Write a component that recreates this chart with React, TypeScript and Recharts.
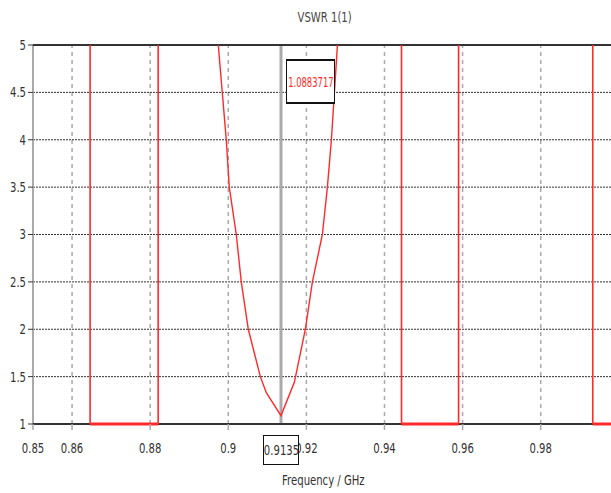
import { LineChart, Line, XAxis, YAxis, ReferenceLine } from "recharts";

const FONT = "'DejaVu Sans', sans-serif";

// VSWR dip around the marker (GHz, VSWR)
const dipFreq = [0.8965, 0.89744, 0.89846, 0.89949, 0.90026, 0.90205, 0.90333, 0.90513, 0.90821, 0.90974, 0.9135, 0.91692, 0.91974, 0.92154, 0.9241, 0.92538, 0.92641, 0.92718, 0.92795, 0.9287];
const dipVswr = [5.6, 5, 4.5, 4, 3.5, 3, 2.5, 2, 1.5, 1.33, 1.0884, 1.44, 2, 2.5, 3, 3.5, 4, 4.5, 5, 5.6];

// rectangular segments that sit on VSWR = 1
const pulseA = { freq: [0.86462, 0.86462, 0.88205, 0.88205], vswr: [6, 1, 1, 6] };
const pulseB = { freq: [0.94436, 0.94436, 0.95897, 0.95897], vswr: [6, 1, 1, 6] };
const pulseC = { freq: [0.99333, 0.99333, 1.0], vswr: [6, 1, 1] };

const xTicks = [0.85, 0.86, 0.88, 0.9, 0.92, 0.94, 0.96, 0.98];
const yTicks = [1, 1.5, 2, 2.5, 3, 3.5, 4, 4.5, 5];
const xGrid = [0.86, 0.88, 0.9, 0.92, 0.94, 0.96, 0.98];
const yGrid = [1.5, 2, 2.5, 3, 3.5, 4, 4.5];

const markerFreq = 0.9135;
const markerValue = "1.0883717";

const zip = (f: number[], v: number[]) => f.map((x, i) => ({ f: x, v: v[i] }));

const dipData = zip(dipFreq, dipVswr);
const pulseList = [pulseA, pulseB, pulseC];
const pulses = pulseList.map((p) => zip(p.freq, p.vswr));

// flat parts of the pulses, redrawn on top of the bottom border
const floors = pulseList.map((p) => {
  const xs = p.freq.filter((_, i) => p.vswr[i] === 1);
  return [xs[0], xs[xs.length - 1]];
});

const RED = "#ff2a2a";
const NARROW = 0.72;

// narrow tick text, the original uses a condensed face
function NarrowTick(props: any) {
  const { x, y, payload, textAnchor, verticalAnchor } = props;
  const dy = verticalAnchor === "start" ? "0.8em" : "0.35em";
  return (
    <text
      transform={`translate(${x},${y}) scale(${NARROW},1)`}
      textAnchor={textAnchor}
      dy={dy}
      fill="#333"
      fontSize={14}
      fontFamily={FONT}
    >
      {String(payload.value)}
    </text>
  );
}

const narrowSpan = (s: string) => (
  <span style={{ display: "inline-block", transform: `scaleX(${NARROW})` }}>{s}</span>
);

export default function App() {
  return (
    <div
      style={{
        position: "absolute",
        left: 0,
        top: 0,
        width: 611,
        height: 493,
        background: "#fff",
        fontFamily: FONT,
        overflow: "hidden",
      }}
    >
      <LineChart
        width={611}
        height={493}
        margin={{ top: 45, right: 0, left: 0, bottom: 39 }}
      >
        <XAxis
          type="number"
          dataKey="f"
          domain={[0.85, 0.998]}
          ticks={xTicks}
          allowDataOverflow
          axisLine={false}
          tickLine={{ stroke: "#aaa", strokeWidth: 1.5 }}
          tickSize={6}
          tickMargin={12}
          height={30}
          tick={<NarrowTick />}
        />
        <YAxis
          type="number"
          domain={[1, 5]}
          ticks={yTicks}
          allowDataOverflow
          width={33}
          axisLine={false}
          tickLine={{ stroke: "#333" }}
          tickSize={5}
          tickMargin={2}
          tick={<NarrowTick />}
        />
        {xGrid.map((x) => (
          <ReferenceLine key={"gx" + x} x={x} stroke="#aaa" strokeWidth={1.5} strokeDasharray="4 4" />
        ))}
        {yGrid.map((y) => (
          <ReferenceLine key={"gy" + y} y={y} stroke="#333" strokeWidth={1} strokeDasharray="2 1" />
        ))}
        <ReferenceLine x={0.85} stroke="#aaa" strokeWidth={2} />
        <ReferenceLine x={markerFreq} stroke="#aaa" strokeWidth={3} />
        <ReferenceLine y={5} stroke="#333" strokeWidth={2} />
        <ReferenceLine y={1} stroke="#333" strokeWidth={2} />
        {floors.map(([a, b], i) => (
          <ReferenceLine
            key={"fl" + i}
            segment={[
              { x: a, y: 1 },
              { x: b, y: 1 },
            ]}
            stroke={RED}
            strokeWidth={3}
            ifOverflow="visible"
          />
        ))}
        {pulses.map((d, i) => (
          <Line
            key={"p" + i}
            data={d}
            dataKey="v"
            stroke={RED}
            strokeWidth={1.6}
            dot={false}
            isAnimationActive={false}
          />
        ))}
        <Line
          data={dipData}
          dataKey="v"
          stroke={RED}
          strokeWidth={1.4}
          dot={false}
          isAnimationActive={false}
        />
      </LineChart>

      <div
        style={{
          position: "absolute",
          left: 0,
          width: 650,
          top: 9,
          textAlign: "center",
          fontSize: 14,
          color: "#444",
        }}
      >
        {narrowSpan("VSWR 1(1)")}
      </div>

      <div
        style={{
          position: "absolute",
          left: 286,
          top: 59,
          width: 47,
          height: 41,
          border: "2px solid #111",
          borderLeftWidth: 1,
          borderRightWidth: 1,
          background: "#fff",
          color: RED,
          fontSize: 14,
          display: "flex",
          alignItems: "center",
          justifyContent: "center",
          overflow: "hidden",
          whiteSpace: "nowrap",
        }}
      >
        <span style={{ display: "inline-block", transform: "scaleX(0.6)" }}>{markerValue}</span>
      </div>

      <div
        style={{
          position: "absolute",
          left: 263,
          top: 435,
          width: 34,
          height: 28,
          border: "1px solid #111",
          background: "#fff",
          color: "#333",
          fontSize: 14,
          display: "flex",
          alignItems: "center",
          justifyContent: "center",
          whiteSpace: "nowrap",
        }}
      >
        {narrowSpan(String(markerFreq))}
      </div>

      <div
        style={{
          position: "absolute",
          left: 0,
          width: 646,
          top: 472,
          textAlign: "center",
          fontSize: 14,
          color: "#333",
        }}
      >
        {narrowSpan("Frequency / GHz")}
      </div>
    </div>
  );
}
